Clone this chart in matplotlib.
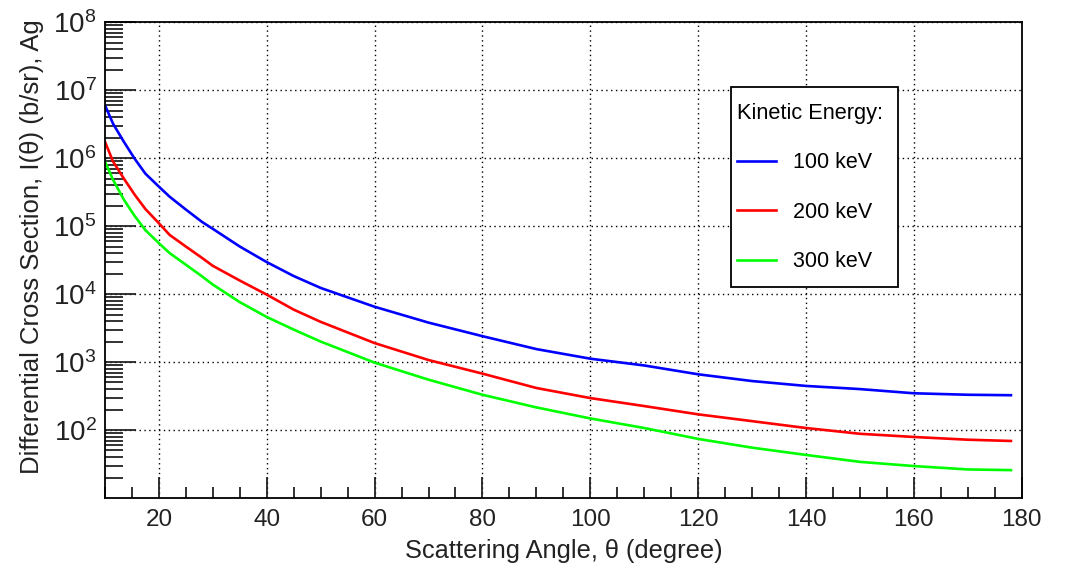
import matplotlib
matplotlib.use("Agg")
import matplotlib.pyplot as plt
from matplotlib.patches import Rectangle
from matplotlib.ticker import MultipleLocator, FixedLocator, LogLocator, LogFormatterMathtext, NullFormatter

plt.rcParams['font.family'] = ['Liberation Sans', 'DejaVu Sans']
plt.rcParams['mathtext.fontset'] = 'custom'
plt.rcParams['mathtext.rm'] = 'Liberation Sans'
plt.rcParams['mathtext.default'] = 'regular'

# scattering angle (degree)
angle = [10, 11.5, 13.5, 15.5, 17.5, 20, 22, 25, 28, 30, 35, 40, 45, 50, 60, 70, 80, 90,
         100, 110, 120, 130, 140, 150, 160, 170, 178]

# differential cross section (b/sr)
xs_100 = [6.0e6, 3.2e6, 1.74e6, 9.8e5, 5.9e5, 3.8e5, 2.7e5, 1.75e5, 1.15e5, 9.1e4,
          5.0e4, 2.95e4, 1.84e4, 1.23e4, 6.5e3, 3.8e3, 2.4e3, 1.55e3,
          1.12e3, 890, 660, 525, 445, 400, 347, 330, 325]
xs_200 = [1.74e6, 8.9e5, 5.0e5, 2.9e5, 1.78e5, 1.1e5, 7.4e4, 5.0e4, 3.4e4, 2.6e4,
          1.58e4, 9.8e3, 5.9e3, 3.9e3, 1.9e3, 1.07e3, 675, 415,
          295, 225, 170, 135, 107, 88, 79, 72, 69]
xs_300 = [8.9e5, 4.8e5, 2.45e5, 1.41e5, 8.7e4, 5.6e4, 4.0e4, 2.7e4, 1.82e4, 1.38e4,
          7.6e3, 4.6e3, 3.0e3, 2.0e3, 980, 550, 330, 215,
          148, 107, 74, 55, 43, 34, 29.5, 26.3, 25.7]

labels = ['100 keV', '200 keV', '300 keV']
colors = ['#0000ff', '#ff0000', '#00ff00']

fig = plt.figure(figsize=(10.71, 5.67), dpi=100)
ax = fig.add_axes([0.098, 0.1217, 0.856, 0.8393])

for ys, lab, c in zip([xs_100, xs_200, xs_300], labels, colors):
    ax.plot(angle, ys, color=c, lw=1.9, label=lab)

ax.set_yscale('log')
ax.set_xlim(10, 180)
ax.set_ylim(10, 1e8)

ax.xaxis.set_major_locator(MultipleLocator(20))
ax.xaxis.set_minor_locator(MultipleLocator(5))
ax.yaxis.set_major_locator(FixedLocator([1e2, 1e3, 1e4, 1e5, 1e6, 1e7, 1e8]))
ax.yaxis.set_major_formatter(LogFormatterMathtext())
ax.yaxis.set_minor_locator(LogLocator(base=10, subs=range(2, 10), numticks=20))
ax.yaxis.set_minor_formatter(NullFormatter())

ax.tick_params(which='both', direction='in', top=False, right=False, width=1.3, colors='#222222')
ax.tick_params(axis='x', which='major', length=15, pad=8, labelsize=17.5)
ax.tick_params(axis='x', which='minor', length=8)
ax.tick_params(axis='y', which='major', length=22, pad=6, labelsize=20)
ax.tick_params(axis='y', which='minor', length=13)

ax.grid(True, which='major', color='black', linestyle=(0, (1, 2.5)), lw=1.0)
for s in ax.spines.values():
    s.set_linewidth(1.3)

ax.set_xlabel('Scattering Angle, θ (degree)', fontsize=18.3, color='#222222', labelpad=6)
ax.set_ylabel('Differential Cross Section, I(θ) (b/sr), Ag', fontsize=18.5, color='#222222')
ax.yaxis.set_label_coords(-0.067, 0.528)

# legend box (ROOT TLegend style)
box = Rectangle((731 / 1071, 1 - 287 / 567), 167 / 1071, 200 / 567, transform=fig.transFigure,
                facecolor='white', edgecolor='black', lw=1.3, zorder=4, clip_on=False)
ax.add_patch(box)
leg = ax.legend(title='Kinetic Energy:', loc='upper left',
                bbox_to_anchor=(737 / 1071, 1 - 103 / 567), bbox_transform=fig.transFigure,
                fontsize=15.5, title_fontsize=15.7, alignment='left', frameon=False,
                borderaxespad=0, borderpad=0, handlelength=1.8, handletextpad=0.8,
                labelspacing=1.32)
leg.set_zorder(5)

fig.savefig('out.png', dpi=100)
